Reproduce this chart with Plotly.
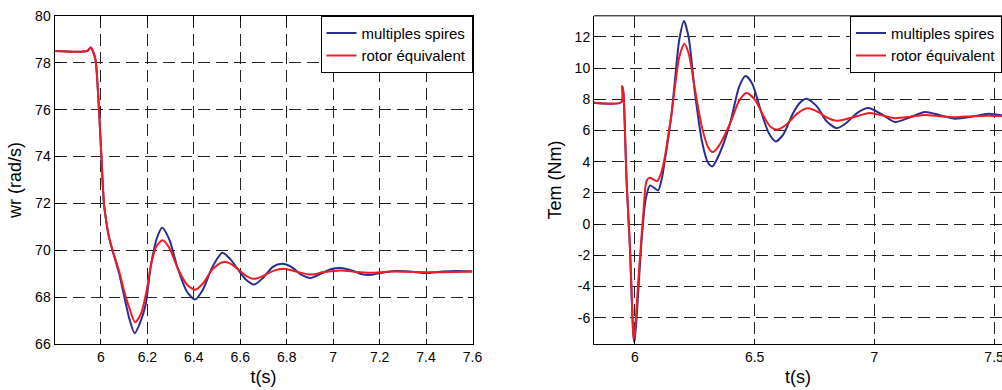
import plotly.graph_objects as go

# ---------------- data ----------------
# Left: rotor speed wr (rad/s)
t_wr_multi = [5.80, 5.94, 5.956, 5.965, 5.977, 5.991, 6.002, 6.013, 6.025, 6.035, 6.05, 6.063,
              6.08, 6.099, 6.122, 6.145, 6.168, 6.193, 6.214, 6.24, 6.264, 6.295, 6.329, 6.37,
              6.405, 6.44, 6.48, 6.523, 6.555, 6.588, 6.625, 6.66, 6.70, 6.74, 6.78, 6.82,
              6.86, 6.904, 6.95, 6.99, 7.033, 7.08, 7.12, 7.162, 7.21, 7.27, 7.33, 7.40,
              7.47, 7.53, 7.60]
wr_multi = [78.5, 78.5, 78.65, 78.5, 78.1, 76.1, 74.0, 72.0, 71.1, 70.55, 70.0, 69.55,
            68.95, 68.1, 67.1, 66.47, 66.9, 67.72, 69.29, 70.5, 70.97, 70.45, 69.29, 68.25,
            67.91, 68.35, 69.3, 69.9, 69.65, 69.22, 68.75, 68.55, 68.85, 69.3, 69.43, 69.3,
            68.98, 68.83, 69.02, 69.2, 69.25, 69.15, 69.0, 68.96, 69.05, 69.12, 69.1, 69.04,
            69.1, 69.12, 69.1]

t_wr_rotor = [5.80, 5.94, 5.956, 5.965, 5.977, 5.991, 6.002, 6.013, 6.025, 6.035, 6.05, 6.063,
              6.08, 6.099, 6.122, 6.147, 6.172, 6.195, 6.218, 6.24, 6.265, 6.295, 6.33, 6.37,
              6.405, 6.44, 6.48, 6.523, 6.555, 6.588, 6.625, 6.66, 6.70, 6.74, 6.787, 6.84,
              6.904, 6.96, 7.033, 7.10, 7.16, 7.25, 7.35, 7.45, 7.60]
wr_rotor = [78.5, 78.5, 78.65, 78.5, 78.1, 76.1, 74.0, 72.0, 71.1, 70.55, 70.0, 69.6,
            69.05, 68.3, 67.55, 66.94, 67.3, 68.2, 69.5, 70.2, 70.43, 70.1, 69.25, 68.55,
            68.32, 68.6, 69.2, 69.5, 69.45, 69.22, 68.92, 68.79, 68.92, 69.12, 69.22, 69.1,
            68.97, 69.08, 69.15, 69.08, 69.05, 69.1, 69.08, 69.07, 69.1]

# Right: electromagnetic torque Tem (Nm)
t_tem_multi = [5.80, 5.944, 5.947, 5.952, 5.965, 5.979, 5.993, 5.998, 6.006, 6.016, 6.03, 6.045,
               6.063, 6.078, 6.097, 6.112, 6.125, 6.14, 6.153, 6.167, 6.185, 6.205, 6.225, 6.251,
               6.28, 6.305, 6.323, 6.35, 6.397, 6.435, 6.462, 6.49, 6.525, 6.56, 6.588, 6.62,
               6.66, 6.69, 6.717, 6.76, 6.80, 6.842, 6.88, 6.93, 6.975, 7.03, 7.086, 7.15,
               7.211, 7.27, 7.337, 7.41, 7.476, 7.54]
tem_multi = [7.82, 7.82, 8.83, 8.4, 2.8, -1.47, -7.0, -7.56, -6.2, -3.8, -0.6, 1.6,
             2.48, 2.35, 2.16, 2.9, 4.08, 5.6, 7.08, 9.2, 11.8, 13.01, 11.9, 8.36,
             5.3, 3.95, 3.70, 4.4, 6.44, 8.8, 9.49, 9.0, 7.3, 5.8, 5.30, 5.75,
             7.1, 7.8, 8.04, 7.55, 6.6, 6.15, 6.45, 7.15, 7.44, 7.05, 6.54, 6.85,
             7.18, 7.0, 6.76, 6.9, 7.08, 6.95]

t_tem_rotor = [5.80, 5.944, 5.947, 5.952, 5.965, 5.979, 5.993, 5.997, 6.004, 6.014, 6.025, 6.035,
               6.049, 6.063, 6.078, 6.093, 6.11, 6.125, 6.14, 6.153, 6.167, 6.185, 6.206, 6.225,
               6.251, 6.28, 6.305, 6.325, 6.35, 6.397, 6.435, 6.466, 6.5, 6.535, 6.565, 6.592,
               6.63, 6.675, 6.72, 6.77, 6.80, 6.842, 6.9, 6.982, 7.03, 7.086, 7.15, 7.211,
               7.28, 7.337, 7.41, 7.476, 7.54]
tem_rotor = [7.82, 7.82, 8.83, 8.4, 2.8, -1.47, -7.03, -7.56, -6.0, -3.61, -1.3, 0.67,
             2.8, 2.97, 2.85, 2.76, 3.3, 4.3, 5.8, 7.08, 8.8, 10.7, 11.56, 10.9,
             8.6, 6.2, 4.95, 4.62, 5.0, 6.44, 7.9, 8.40, 8.0, 7.0, 6.25, 6.05,
             6.35, 7.05, 7.42, 7.15, 6.85, 6.62, 6.8, 7.12, 6.97, 6.79, 6.88, 7.0,
             6.9, 6.85, 6.92, 6.95, 6.93]

series_names = ["multiples spires", "rotor équivalent"]

wr_xticks = [6, 6.2, 6.4, 6.6, 6.8, 7, 7.2, 7.4, 7.6]
wr_xlabels = ["6", "6.2", "6.4", "6.6", "6.8", "7", "7.2", "7.4", "7.6"]
wr_yticks = [66, 68, 70, 72, 74, 76, 78, 80]
wr_ylabels = ["66", "68", "70", "72", "74", "76", "78", "80"]
tem_xticks = [6, 6.5, 7, 7.5]
tem_xlabels = ["6", "6.5", "7", "7.5"]
tem_yticks = [-6, -4, -2, 0, 2, 4, 6, 8, 10, 12]
tem_ylabels = ["-6", "-4", "-2", "0", "2", "4", "6", "8", "10", "12"]

# ---------------- styling ----------------
BLUE = "#2b2e91"
RED = "#f01c24"
FONT = "Liberation Sans, Arial, sans-serif"
W, H = 1002, 390

def px_x(p):
    return p / W

def px_y(p):
    return 1 - p / H

dom_x1 = [px_x(54.5), px_x(472.5)]
dom_x2 = [px_x(594), 1.0]
dom_y = [px_y(344.3), px_y(15.8)]

fig = go.Figure()
line_common = dict(width=2, shape="spline", smoothing=0.7)

fig.add_trace(go.Scatter(x=t_wr_multi, y=wr_multi, mode="lines", name=series_names[0],
                         line=dict(color=BLUE, **line_common), xaxis="x", yaxis="y", legend="legend"))
fig.add_trace(go.Scatter(x=t_wr_rotor, y=wr_rotor, mode="lines", name=series_names[1],
                         line=dict(color=RED, **line_common), xaxis="x", yaxis="y", legend="legend"))
fig.add_trace(go.Scatter(x=t_tem_multi, y=tem_multi, mode="lines", name=series_names[0],
                         line=dict(color=BLUE, **line_common), xaxis="x2", yaxis="y2", legend="legend2"))
fig.add_trace(go.Scatter(x=t_tem_rotor, y=tem_rotor, mode="lines", name=series_names[1],
                         line=dict(color=RED, **line_common), xaxis="x2", yaxis="y2", legend="legend2"))

axis_common = dict(
    showgrid=True, gridcolor="#222222", gridwidth=1, griddash="12px,6px",
    zeroline=False, showline=True, linecolor="black", linewidth=1,
    ticks="inside", ticklen=5, tickcolor="black", automargin=False,
    ticklabeloverflow="allow",
    tickfont=dict(family=FONT, size=14, color="black"),
)

legend_common = dict(
    bgcolor="white", bordercolor="black", borderwidth=1,
    font=dict(family=FONT, size=15, color="black"),
    tracegroupgap=0, itemwidth=30,
)

fig.update_layout(
    width=W, height=H,
    margin=dict(l=0, r=0, t=0, b=0, autoexpand=False),
    paper_bgcolor="white", plot_bgcolor="white",
    font=dict(family=FONT, color="black"),
    xaxis=dict(domain=dom_x1, range=[5.8, 7.6], tickvals=wr_xticks, ticktext=wr_xlabels,
               mirror="ticks", anchor="y",
               title=dict(text="t(s)", font=dict(family=FONT, size=18), standoff=6), **axis_common),
    yaxis=dict(domain=dom_y, range=[66, 80], tickvals=wr_yticks, ticktext=wr_ylabels,
               mirror="ticks", anchor="x",
               title=dict(text="wr (rad/s)", font=dict(family=FONT, size=18), standoff=8), **axis_common),
    xaxis2=dict(domain=dom_x2, range=[5.829, 7.533], tickvals=tem_xticks, ticktext=tem_xlabels,
                mirror=False, anchor="y2",
                title=dict(text="t(s)", font=dict(family=FONT, size=18), standoff=6), **axis_common),
    yaxis2=dict(domain=dom_y, range=[-7.7, 13.35], tickvals=tem_yticks, ticktext=tem_ylabels,
                mirror=False, anchor="x2",
                title=dict(text="Tem (Nm)", font=dict(family=FONT, size=18), standoff=8), **axis_common),
    legend=dict(x=dom_x1[1], y=dom_y[1], xanchor="right", yanchor="top", **legend_common),
    legend2=dict(x=px_x(850), y=dom_y[1], xanchor="left", yanchor="top", **legend_common),
    shapes=[dict(type="line", xref="paper", yref="paper", x0=dom_x2[0], x1=1.0,
                 y0=dom_y[1], y1=dom_y[1], line=dict(color="black", width=1), layer="above")],
    showlegend=True,
)

fig.write_html(
    "out.html",
    config={"displayModeBar": False},
    post_script="document.body.style.margin='0';document.body.style.overflow='hidden';",
)
